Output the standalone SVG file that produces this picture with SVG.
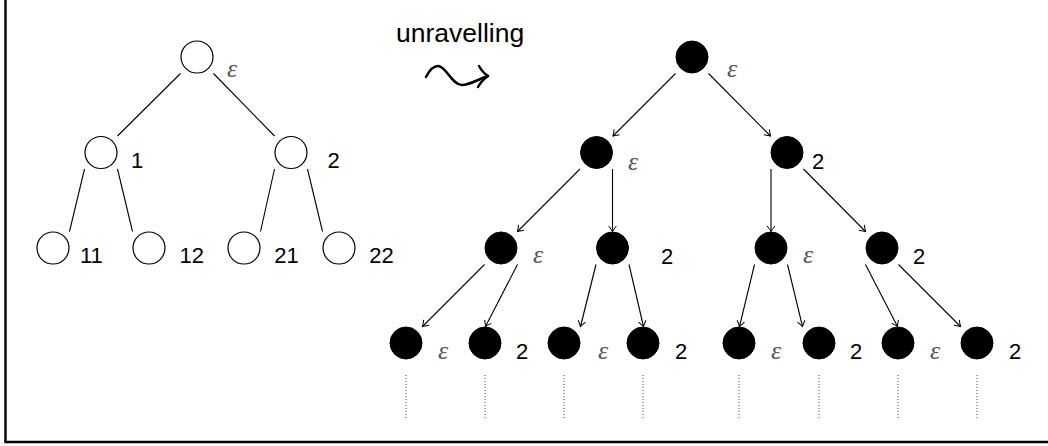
<svg xmlns="http://www.w3.org/2000/svg" width="1048" height="446" viewBox="0 0 1048 446">
<style>
.open{fill:#fff;stroke:#000;stroke-width:1.2}
.full{fill:#000;stroke:#000;stroke-width:1}
.num{font-family:"Liberation Sans",Arial,sans-serif;font-size:22px;fill:#000}
.eps{font-family:"Liberation Serif","DejaVu Serif",serif;font-style:italic;font-size:26px;fill:#555}
.edge{stroke:#000;stroke-width:1.1;fill:none}
.arr{stroke:#000;stroke-width:1.1;fill:none;marker-end:url(#tip)}
.dots{stroke:#444;stroke-width:1;stroke-dasharray:1 2}
</style>
<defs>
<marker id="tip" viewBox="-7 -5 8 10" refX="0" refY="0" markerWidth="8" markerHeight="10" markerUnits="userSpaceOnUse" orient="auto">
<path d="M-5.5,-3.8 Q-1.6,-0.9 0,0 Q-1.6,0.9 -5.5,3.8" fill="none" stroke="#000" stroke-width="1"/>
</marker>
</defs>
<rect width="1048" height="446" fill="#fff"/>
<g id="frame">
<line x1="5.5" y1="0" x2="5.5" y2="442" stroke="#000" stroke-width="2.4"/>
<line x1="4.3" y1="442" x2="1048" y2="442" stroke="#000" stroke-width="2.6"/>
</g>
<g id="connectors">
<line class="edge" x1="180.5" y1="73.5" x2="117.5" y2="136"/>
<line class="edge" x1="213.5" y1="73.5" x2="274.5" y2="136"/>
<line class="edge" x1="84.5" y1="169" x2="69.5" y2="231.5"/>
<line class="edge" x1="117.5" y1="169" x2="132.5" y2="231.5"/>
<line class="edge" x1="274.5" y1="169" x2="260.5" y2="231.5"/>
<line class="edge" x1="307.5" y1="169" x2="322.5" y2="231.5"/>
<line class="arr" x1="675.5" y1="73.5" x2="613" y2="136"/>
<line class="arr" x1="708.5" y1="73.5" x2="770.5" y2="136"/>
<line class="arr" x1="580" y1="169" x2="517.5" y2="231.5"/>
<line class="arr" x1="612.5" y1="169" x2="612.5" y2="231.5"/>
<line class="arr" x1="771" y1="169" x2="771" y2="231.5"/>
<line class="arr" x1="803.5" y1="169" x2="865.5" y2="231.5"/>
<line class="arr" x1="484.5" y1="264.5" x2="422.5" y2="326.5"/>
<line class="arr" x1="517.5" y1="264.5" x2="485.5" y2="326.5"/>
<line class="arr" x1="596" y1="264.5" x2="580.5" y2="326.5"/>
<line class="arr" x1="629" y1="264.5" x2="643.5" y2="326.5"/>
<line class="arr" x1="754.5" y1="264.5" x2="739.5" y2="326.5"/>
<line class="arr" x1="787.5" y1="264.5" x2="802.5" y2="326.5"/>
<line class="arr" x1="865.5" y1="264.5" x2="897.5" y2="326.5"/>
<line class="arr" x1="898.5" y1="264.5" x2="960.5" y2="326.5"/>
<line class="dots" x1="406" y1="375" x2="406" y2="420"/>
<line class="dots" x1="485" y1="375" x2="485" y2="420"/>
<line class="dots" x1="564" y1="375" x2="564" y2="420"/>
<line class="dots" x1="643" y1="375" x2="643" y2="420"/>
<line class="dots" x1="739" y1="375" x2="739" y2="420"/>
<line class="dots" x1="819" y1="375" x2="819" y2="420"/>
<line class="dots" x1="898" y1="375" x2="898" y2="420"/>
<line class="dots" x1="977" y1="375" x2="977" y2="420"/>
</g>
<g id="unravelling">
<text x="396" y="42" font-family="'Liberation Sans',Arial,sans-serif" font-size="26.5" fill="#000">unravelling</text>
<path d="M426,77 C430,69 434,66 438,66 C446,66 452,85 462,85 C470,85 476,80 488,76" fill="none" stroke="#000" stroke-width="2.5" stroke-linecap="round"/>
<path d="M479,66 Q483,73 488,76 Q482,80 478,87" fill="none" stroke="#000" stroke-width="2.5" stroke-linecap="round" stroke-linejoin="round"/>
</g>
<g id="L-root"><circle class="open" cx="197" cy="57" r="16"/><text class="eps" x="227" y="77">ε</text></g>
<g id="L-1"><circle class="open" cx="101" cy="152.5" r="16"/><text class="num" x="131" y="168">1</text></g>
<g id="L-2"><circle class="open" cx="291" cy="152.5" r="16"/><text class="num" x="327.5" y="168">2</text></g>
<g id="L-11"><circle class="open" cx="53" cy="248" r="16"/><text class="num" x="80" y="263">11</text></g>
<g id="L-12"><circle class="open" cx="149" cy="248" r="16"/><text class="num" x="179.5" y="263">12</text></g>
<g id="L-21"><circle class="open" cx="244" cy="248" r="16"/><text class="num" x="274.3" y="263">21</text></g>
<g id="L-22"><circle class="open" cx="339" cy="248" r="16"/><text class="num" x="369.3" y="263">22</text></g>
<g id="R-root"><circle class="full" cx="692" cy="57" r="16"/><text class="eps" x="727" y="77">ε</text></g>
<g id="R-e"><circle class="full" cx="596.5" cy="152.5" r="16"/><text class="eps" x="628" y="170">ε</text></g>
<g id="R-2"><circle class="full" cx="787" cy="152.5" r="16"/><text class="num" x="812" y="169">2</text></g>
<g id="R-ee"><circle class="full" cx="501" cy="248" r="16"/><text class="eps" x="533" y="263">ε</text></g>
<g id="R-e2"><circle class="full" cx="612.5" cy="248" r="16"/><text class="num" x="661" y="264">2</text></g>
<g id="R-2e"><circle class="full" cx="771" cy="248" r="16"/><text class="eps" x="803" y="263">ε</text></g>
<g id="R-22"><circle class="full" cx="882" cy="248" r="16"/><text class="num" x="913" y="264">2</text></g>
<g id="R-eee"><circle class="full" cx="406" cy="343" r="16"/><text class="eps" x="438" y="359">ε</text></g>
<g id="R-ee2"><circle class="full" cx="485" cy="343" r="16"/><text class="num" x="516" y="359">2</text></g>
<g id="R-e2e"><circle class="full" cx="564" cy="343" r="16"/><text class="eps" x="598" y="359">ε</text></g>
<g id="R-e22"><circle class="full" cx="643" cy="343" r="16"/><text class="num" x="675" y="359">2</text></g>
<g id="R-2ee"><circle class="full" cx="739" cy="343" r="16"/><text class="eps" x="771" y="359">ε</text></g>
<g id="R-2e2"><circle class="full" cx="819" cy="343" r="16"/><text class="num" x="850" y="359">2</text></g>
<g id="R-22e"><circle class="full" cx="898" cy="343" r="16"/><text class="eps" x="930" y="359">ε</text></g>
<g id="R-222"><circle class="full" cx="977" cy="343" r="16"/><text class="num" x="1009" y="359">2</text></g>
</svg>
